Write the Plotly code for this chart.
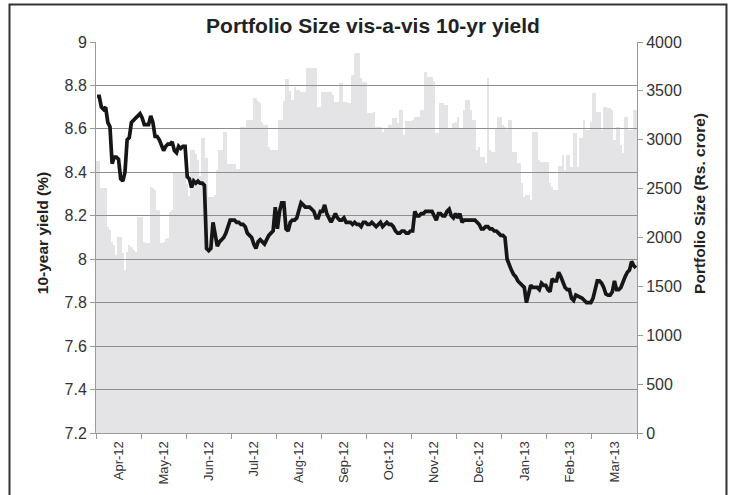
import plotly.graph_objects as go

months = ["Apr-12", "May-12", "Jun-12", "Jul-12", "Aug-12", "Sep-12",
          "Oct-12", "Nov-12", "Dec-12", "Jan-13", "Feb-13", "Mar-13"]
days_per_month = 21

yield_pct = [
    # Apr
    8.75, 8.75, 8.70, 8.69, 8.70, 8.63, 8.61, 8.44, 8.47, 8.47, 8.46, 8.37, 8.36, 8.40, 8.55, 8.56, 8.63, 8.64, 8.655, 8.66, 8.67,
    # May
    8.65, 8.62, 8.62, 8.62, 8.66, 8.63, 8.565, 8.565, 8.55, 8.52, 8.50, 8.52, 8.53, 8.53, 8.54, 8.50, 8.49, 8.52, 8.51, 8.52, 8.52,
    # Jun
    8.38, 8.37, 8.33, 8.36, 8.35, 8.36, 8.35, 8.35, 8.34, 8.05, 8.04, 8.05, 8.17, 8.10, 8.06, 8.08, 8.09, 8.10, 8.12, 8.15, 8.18,
    # Jul
    8.18, 8.18, 8.17, 8.17, 8.16, 8.16, 8.15, 8.12, 8.11, 8.10, 8.07, 8.05, 8.08, 8.09, 8.08, 8.07, 8.09, 8.11, 8.12, 8.13, 8.24,
    # Aug
    8.14, 8.22, 8.26, 8.26, 8.14, 8.13, 8.17, 8.18, 8.18, 8.19, 8.22, 8.26, 8.25, 8.24, 8.24, 8.24, 8.23, 8.22, 8.19, 8.19, 8.22,
    # Sep
    8.22, 8.25, 8.21, 8.19, 8.17, 8.19, 8.21, 8.19, 8.18, 8.18, 8.19, 8.17, 8.17, 8.17, 8.16, 8.17, 8.16, 8.16, 8.15, 8.17, 8.17,
    # Oct
    8.16, 8.16, 8.17, 8.16, 8.15, 8.16, 8.17, 8.15, 8.16, 8.17, 8.16, 8.16, 8.15, 8.13, 8.12, 8.12, 8.13, 8.13, 8.12, 8.12, 8.13,
    # Nov
    8.13, 8.22, 8.20, 8.20, 8.21, 8.21, 8.22, 8.22, 8.22, 8.22, 8.20, 8.18, 8.21, 8.21, 8.20, 8.20, 8.22, 8.23, 8.20, 8.19, 8.21,
    # Dec
    8.19, 8.21, 8.17, 8.18, 8.18, 8.18, 8.18, 8.18, 8.18, 8.17, 8.16, 8.14, 8.14, 8.15, 8.15, 8.14, 8.14, 8.13, 8.13, 8.12, 8.11,
    # Jan
    8.11, 8.10, 8.00, 7.97, 7.95, 7.93, 7.92, 7.90, 7.89, 7.88, 7.87, 7.80, 7.84, 7.88, 7.87, 7.87, 7.87, 7.86, 7.89, 7.88, 7.88,
    # Feb
    7.86, 7.85, 7.91, 7.90, 7.90, 7.94, 7.92, 7.895, 7.87, 7.86, 7.86, 7.82, 7.81, 7.835, 7.83, 7.825, 7.82, 7.81, 7.80, 7.80, 7.80,
    # Mar
    7.82, 7.86, 7.90, 7.90, 7.89, 7.87, 7.84, 7.835, 7.835, 7.85, 7.90, 7.86, 7.86, 7.87, 7.90, 7.92, 7.94, 7.95, 7.99, 7.97, 7.96,
]

portfolio = [
    # Apr
    2785, 2785, 2506, 2506, 2506, 2110, 2077, 1957, 1923, 1821, 2008, 2008, 1838, 1667, 1855, 1923, 1906, 1872, 1855, 2213, 2213,
    # May
    2213, 1957, 1944, 1944, 2520, 2510, 2486, 2281, 2281, 1944, 1957, 1980, 1990, 2264, 2281, 2660, 2660, 2660, 2660, 2660, 2660,
    # Jun
    2550, 2420, 2895, 2895, 2850, 2793, 2630, 3018, 3018, 2810, 2415, 2415, 2415, 2430, 2690, 2895, 2895, 3080, 3080, 2750, 2750,
    # Jul
    2750, 2750, 2700, 2700, 3130, 3130, 3130, 3202, 3202, 3202, 3427, 3427, 3400, 3380, 3182, 3150, 3150, 2926, 2895, 2895, 2895,
    # Aug
    2895, 3202, 3202, 3400, 3621, 3621, 3500, 3407, 3540, 3509, 3509, 3490, 3490, 3490, 3734, 3734, 3734, 3734, 3734, 3335, 3335,
    # Sep
    3490, 3490, 3490, 3490, 3490, 3458, 3386, 3386, 3580, 3580, 3386, 3386, 3376, 3376, 3662, 3887, 3887, 3887, 3632, 3591, 3591,
    # Oct
    3274, 3274, 3274, 3284, 3130, 3130, 3130, 3080, 3120, 3120, 3150, 3150, 3222, 3222, 3170, 3304, 3304, 3048, 3192, 3192, 3192,
    # Nov
    3202, 3233, 3233, 3233, 3304, 3304, 3693, 3642, 3642, 3642, 3600, 3069, 3069, 3376, 3376, 3356, 3356, 3120, 3120, 3170, 3182,
    # Dec
    3233, 3120, 3120, 3304, 3407, 3407, 3304, 3202, 3202, 2895, 2926, 2823, 2823, 2762, 3632, 2895, 2875, 2875, 3120, 3233, 3233,
    # Jan
    3150, 3130, 3100, 3202, 3202, 2875, 2875, 2762, 2762, 2557, 2415, 2435, 2435, 2384, 3080, 3080, 3080, 2793, 2772, 2772, 2772,
    # Feb
    2772, 2557, 2517, 2486, 2486, 2731, 2731, 2844, 2690, 2844, 2844, 2721, 3069, 3069, 2721, 3018, 3018, 3202, 3100, 3100, 3182,
    # Mar
    3478, 3478, 3284, 3284, 3100, 3335, 3335, 3325, 3325, 3304, 2997, 3130, 3130, 2946, 2864, 3233, 3233, 3100, 3100, 3304, 3304,
]

n = len(yield_pct)
x = list(range(n))
tick_pos = [i * days_per_month + days_per_month // 2 for i in range(len(months))]

FONT = "Liberation Sans, Arial, sans-serif"
AXIS_GRAY = "#9a9a9a"

fig = go.Figure()
fig.add_trace(go.Bar(
    x=x, y=portfolio, yaxis="y",
    marker=dict(color="rgba(150,150,158,0.26)", line=dict(width=0)),
    hoverinfo="skip", showlegend=False,
))
fig.add_trace(go.Scatter(
    x=x, y=yield_pct, yaxis="y2", mode="lines",
    line=dict(color="#161616", width=3.7),
    showlegend=False,
))

fig.update_layout(
    width=730, height=495,
    margin=dict(l=96, r=93, t=42, b=62, autoexpand=False),
    paper_bgcolor="white", plot_bgcolor="white",
    bargap=0,
    font=dict(family=FONT, color="#333333"),
    title=dict(text="<b>Portfolio Size vis-a-vis 10-yr yield</b>",
               x=0.512, xref="paper", xanchor="center",
               y=0.949, yref="container", yanchor="middle",
               font=dict(size=21, color="#222222", family=FONT)),
    xaxis=dict(
        automargin=False,
        range=[-0.5, n - 0.5],
        tickmode="array", tickvals=tick_pos, ticktext=months,
        tickangle=-90, ticks="outside", ticklen=2, tickcolor="rgba(0,0,0,0)",
        tickfont=dict(size=13, color="#333333"),
        showline=True, linecolor=AXIS_GRAY, linewidth=1,
        showgrid=False, zeroline=False,
        minor=dict(tickmode="linear", tick0=-0.5, dtick=days_per_month,
                   ticks="outside", ticklen=5, tickcolor=AXIS_GRAY,
                   showgrid=False),
    ),
    yaxis=dict(
        automargin=False,
        side="right", range=[0, 4000], tickmode="linear", tick0=0, dtick=500,
        showgrid=False, zeroline=False,
        ticks="outside", ticklen=5, tickcolor=AXIS_GRAY,
        showline=True, linecolor=AXIS_GRAY, linewidth=1,
        tickfont=dict(size=16, color="#333333"),
    ),
    yaxis2=dict(
        automargin=False,
        overlaying="y", side="left", range=[7.2, 9],
        tickmode="linear", tick0=7.2, dtick=0.2,
        showgrid=True, gridcolor="#8c8c8c", gridwidth=1, zeroline=False,
        ticks="outside", ticklen=5, tickcolor=AXIS_GRAY,
        showline=True, linecolor=AXIS_GRAY, linewidth=1,
        tickfont=dict(size=16, color="#333333"),
    ),
    annotations=[
        dict(text="<b>10-year yield (%)</b>", textangle=-90,
             xref="paper", yref="paper", x=-0.0998, y=0.511,
             xanchor="center", yanchor="middle", showarrow=False,
             font=dict(size=15.5, color="#222222", family=FONT)),
        dict(text="<b>Portfolio Size (Rs. crore)</b>", textangle=-90,
             xref="paper", yref="paper", x=1.1165, y=0.586,
             xanchor="center", yanchor="middle", showarrow=False,
             font=dict(size=15.5, color="#222222", family=FONT)),
    ],
    shapes=[
        dict(type="rect", xref="paper", yref="paper",
             x0=-0.1599, x1=1.1654, y0=-0.25, y1=1.0959,
             line=dict(color="#333333", width=2), fillcolor="rgba(0,0,0,0)",
             layer="above"),
    ],
)

fig.write_html(
    "out.html",
    config={"displayModeBar": False},
    post_script="document.body.style.margin='0px';document.body.style.overflow='hidden';",
)
